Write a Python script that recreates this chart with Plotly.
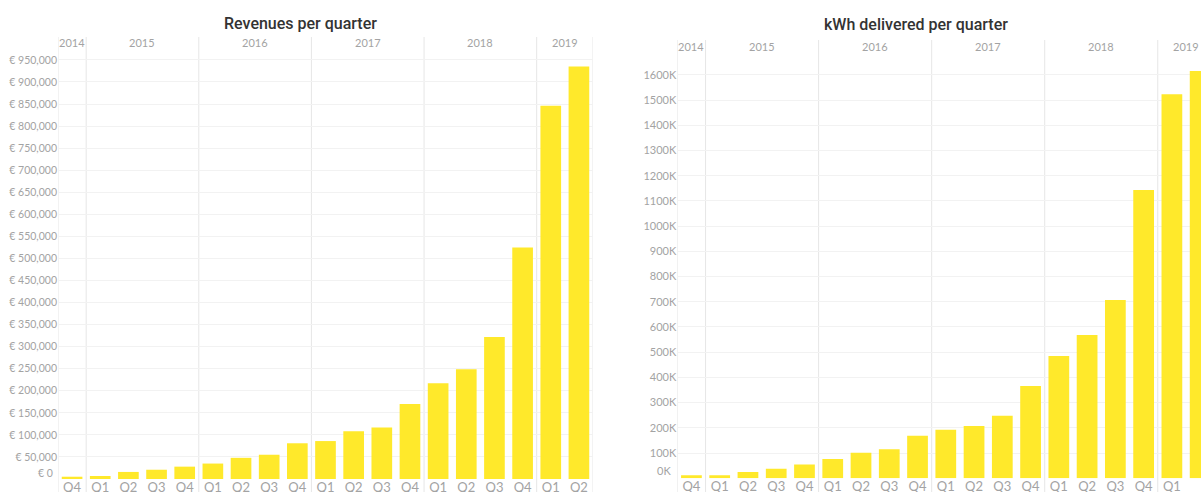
import plotly.graph_objects as go

# ---- data ----
quarters = ["Q4", "Q1", "Q2", "Q3", "Q4", "Q1", "Q2", "Q3", "Q4", "Q1",
            "Q2", "Q3", "Q4", "Q1", "Q2", "Q3", "Q4", "Q1", "Q2"]
years = [2014, 2015, 2015, 2015, 2015, 2016, 2016, 2016, 2016, 2017,
         2017, 2017, 2017, 2018, 2018, 2018, 2018, 2019, 2019]
revenue = [5200, 6800, 16000, 21000, 28000, 35000, 48000, 55000, 81000, 86000,
           108000, 117000, 170000, 217000, 249000, 322000, 525000, 846000, 935000]
kwh = [12000, 12000, 25000, 38000, 55000, 77000, 101000, 115000, 169000, 193000,
       207000, 248000, 366000, 485000, 568000, 707000, 1143000, 1523000, 1615000]
rev_ticks = list(range(50000, 950001, 50000))
kwh_ticks = list(range(100000, 1600001, 100000))

W, H = 1201, 492
BAR = "#FFE92B"
LABEL = "#a3a3a3"
GRID = "#f2f2f2"
SEP = "#e6e6e6"
FONT = "Lato"

idx = list(range(len(quarters)))

fig = go.Figure()
fig.add_trace(go.Bar(x=idx, y=revenue, marker=dict(color=BAR, line=dict(width=0)),
                     xaxis="x", yaxis="y", showlegend=False, hoverinfo="y"))
fig.add_trace(go.Bar(x=idx, y=kwh, marker=dict(color=BAR, line=dict(width=0)),
                     xaxis="x2", yaxis="y2", showlegend=False, hoverinfo="y"))

L_dom_x = [58 / W, 593 / W]
L_dom_y = [(H - 479) / H, (H - 37) / H]
R_dom_x = [677.3 / W, 1.0]
R_dom_y = [(H - 478.3) / H, (H - 40) / H]

xcommon = dict(tickmode="array", tickvals=idx, ticktext=quarters, showgrid=False,
               zeroline=False, showline=False, ticks="", ticklabelstandoff=-1,
               tickfont=dict(family=FONT, size=13, color=LABEL), automargin=False,
               fixedrange=True)
ycommon = dict(showgrid=True, gridcolor=GRID, gridwidth=1, zeroline=False, showline=False,
               ticks="", automargin=False, fixedrange=True)

fig.update_layout(
    width=W, height=H,
    margin=dict(l=0, r=0, t=0, b=0),
    paper_bgcolor="white", plot_bgcolor="white",
    bargap=0.266,
    xaxis=dict(domain=L_dom_x, range=[-0.5, len(idx) - 0.5], anchor="y", **xcommon),
    yaxis=dict(domain=L_dom_y, range=[0, 1002000], anchor="x", tickmode="array",
               tickvals=rev_ticks, ticktext=[f"€ {v:,}" for v in rev_ticks],
               tickfont=dict(family=FONT, size=10.5, color=LABEL), **ycommon),
    xaxis2=dict(domain=R_dom_x, range=[-0.5, 18.03], anchor="y2", **xcommon),
    yaxis2=dict(domain=R_dom_y, range=[0, 1738000], anchor="x2", tickmode="array",
                tickvals=kwh_ticks, ticktext=[f"{v // 1000}K" for v in kwh_ticks],
                tickfont=dict(family=FONT, size=11, color=LABEL), **ycommon),
)

# year boundaries and centers derived from data
bounds = [-0.5]
for i in range(1, len(years)):
    if years[i] != years[i - 1]:
        bounds.append(i - 0.5)
bounds.append(len(years) - 0.5)
uniq_years = []
for y in years:
    if y not in uniq_years:
        uniq_years.append(y)
centers = [sum(i for i in idx if years[i] == y) / years.count(y) for y in uniq_years]

shapes = []
annotations = []
for xr, ydom, year_y in (("x", L_dom_y, 42.7), ("x2", R_dom_y, 46)):
    for b in bounds:
        shapes.append(dict(type="line", xref=xr, yref="paper", x0=b, x1=b,
                           y0=-0.05, y1=ydom[1], line=dict(color=SEP, width=1), layer="below"))
    for yr, c in zip(uniq_years, centers):
        annotations.append(dict(text=str(yr), xref=xr, yref="paper", x=c, y=(H - year_y) / H,
                                showarrow=False, xanchor="center", yanchor="middle",
                                font=dict(family=FONT, size=11, color=LABEL)))

# zero labels (drawn slightly raised)
annotations.append(dict(text="€ 0", xref="paper", yref="y", x=L_dom_x[0], y=0, xanchor="right",
                        yanchor="middle", xshift=-3, yshift=6, showarrow=False,
                        font=dict(family=FONT, size=10.5, color=LABEL)))
annotations.append(dict(text="0K", xref="paper", yref="y2", x=R_dom_x[0], y=0, xanchor="right",
                        yanchor="middle", xshift=-4, yshift=8, showarrow=False,
                        font=dict(family=FONT, size=11, color=LABEL)))

# titles
annotations.append(dict(text="Revenues per quarter", xref="paper", yref="paper",
                        x=300.5 / W, y=(H - 23) / H, showarrow=False, xanchor="center",
                        yanchor="middle",
                        font=dict(family="Roboto", size=16, color="#333333", weight=500)))
annotations.append(dict(text="kWh delivered per quarter", xref="paper", yref="paper",
                        x=916 / W, y=(H - 25) / H, showarrow=False, xanchor="center",
                        yanchor="middle",
                        font=dict(family="Roboto", size=16, color="#333333", weight=500)))

fig.update_layout(shapes=shapes, annotations=annotations)
fig.write_html("out.html", config={"displayModeBar": False},
               post_script="document.body.style.margin='0';document.body.style.overflow='hidden';")
